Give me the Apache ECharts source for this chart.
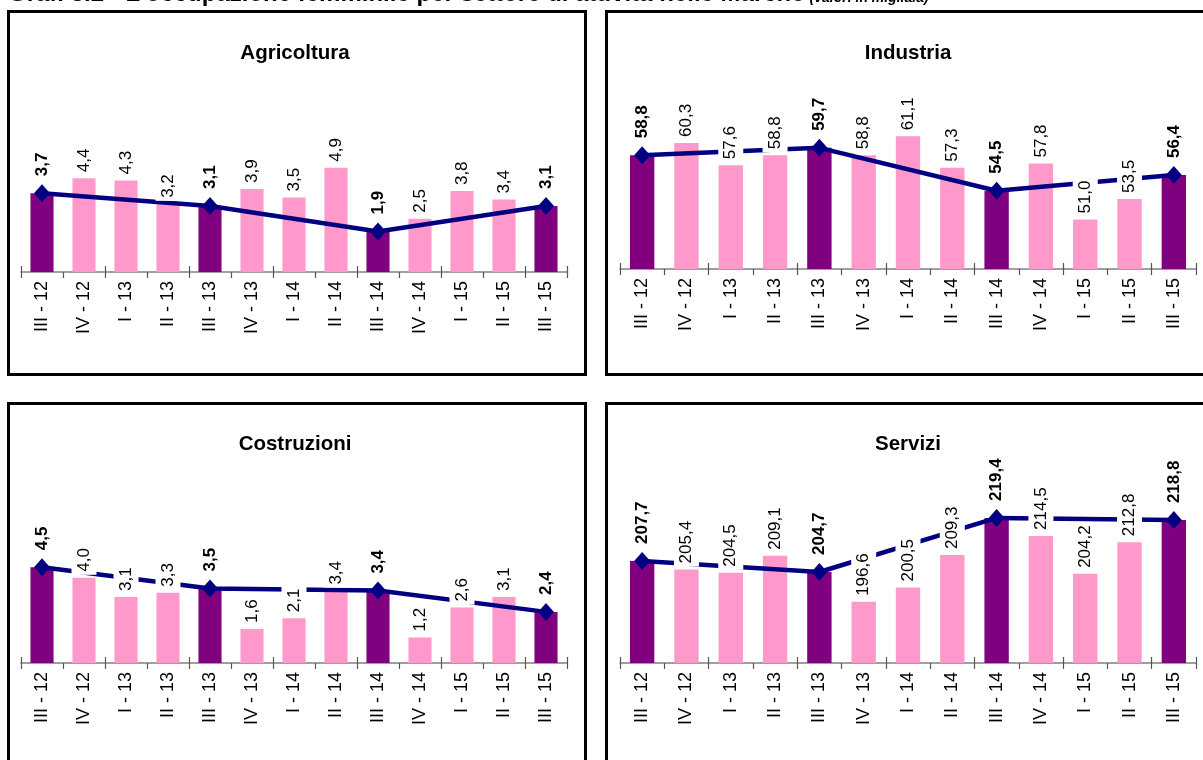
<!DOCTYPE html>
<html>
<head>
<meta charset="utf-8">
<script src="https://cdn.jsdelivr.net/npm/echarts@6/dist/echarts.min.js"></script>
<style>
html,body{margin:0;padding:0;background:#fff;}
#chart{width:1203px;height:760px;}
</style>
</head>
<body>
<div id="chart"></div>
<script>
const categories = ['III - 12','IV - 12','I - 13','II - 13','III - 13','IV - 13','I - 14','II - 14','III - 14','IV - 14','I - 15','II - 15','III - 15'];
const agricoltura = [3.7,4.4,4.3,3.2,3.1,3.9,3.5,4.9,1.9,2.5,3.8,3.4,3.1];
const industria = [58.8,60.3,57.6,58.8,59.7,58.8,61.1,57.3,54.5,57.8,51.0,53.5,56.4];
const costruzioni = [4.5,4.0,3.1,3.3,3.5,1.6,2.1,3.4,3.4,1.2,2.6,3.1,2.4];
const servizi = [207.7,205.4,204.5,209.1,204.7,196.6,200.5,209.3,219.4,214.5,204.2,212.8,218.8];
const panelTitles = ['Agricoltura','Industria','Costruzioni','Servizi'];
const mainTitle = "Graf. 3.2 - L'occupazione femminile per settore di attività nelle Marche";
const mainSubtitle = '(valori in migliaia)';
// III quarters are highlighted
const highlighted = categories.map(c => c.startsWith('III '));
const yRanges = [[0,10],[45,70],[0,10],[180,240]];

const DARK = '#800080', PINK = '#FF99CC', NAVY = '#000080';
const FONT = '"Liberation Sans", Arial, sans-serif';
const fmt = v => v.toFixed(1).replace('.', ',');

const grids = [
  {left:21, top:59, width:546, height:213},
  {left:620, top:63, width:576, height:206},
  {left:21, top:450, width:546, height:213},
  {left:620, top:442, width:576, height:221}
];
const datasets = [agricoltura, industria, costruzioni, servizi];

const xAxis = [], yAxis = [], series = [];
datasets.forEach((vals, g) => {
  xAxis.push({
    type:'category', gridIndex:g, data:categories, position:'bottom',
    axisLine:{lineStyle:{color:'#808080', width:1.5}},
    axisTick:{show:true, length:6, lineStyle:{color:'#555', width:1.2}},
    axisLabel:{rotate:90, fontSize:18, color:'#000', fontFamily:FONT, margin:9, interval:0}
  });
  xAxis.push({
    type:'category', gridIndex:g, data:categories, position:'bottom',
    axisLine:{show:false},
    axisTick:{show:true, inside:true, length:6, lineStyle:{color:'#555', width:1.2}},
    axisLabel:{show:false}
  });
  yAxis.push({type:'value', gridIndex:g, min:yRanges[g][0], max:yRanges[g][1], show:false, splitLine:{show:false}});
  series.push({
    type:'bar', xAxisIndex:2*g, yAxisIndex:g, barWidth:'55%', z:2,
    data: vals.map((v,i) => ({value:v, itemStyle:{color: highlighted[i] ? DARK : PINK}})),
    silent:true
  });
  series.push({
    type:'line', xAxisIndex:2*g, yAxisIndex:g, z:4, connectNulls:true,
    data: vals.map((v,i) => highlighted[i] ? v : null),
    lineStyle:{color:NAVY, width:4.5},
    itemStyle:{color:NAVY},
    symbol:'diamond', symbolSize:[16,18], showSymbol:true,
    silent:true
  });
  series.push({
    type:'bar', xAxisIndex:2*g, yAxisIndex:g, barWidth:'55%', barGap:'-100%', z:6, zlevel:1,
    itemStyle:{color:'rgba(0,0,0,0)'},
    data: vals.map((v,i) => ({
      value:v,
      label:{
        show:true, position:'top', rotate:90, align:'left', verticalAlign:'middle',
        distance: highlighted[i] ? 14 : 3,
        fontSize:17, fontFamily:FONT, color:'#000',
        fontWeight: highlighted[i] ? 'bold' : 'normal',
        backgroundColor: highlighted[i] ? 'transparent' : '#fff', padding:[4,3,4,3],
        formatter: p => fmt(p.value)
      }
    })),
    silent:true
  });
});

const titles = [
  {text:'{b|' + mainTitle + '} {i|' + mainSubtitle + '}',
   left:8, top:-18, padding:0,
   textStyle:{rich:{
     b:{fontSize:24, lineHeight:24, fontWeight:'bold', fontFamily:FONT, color:'#000', verticalAlign:'bottom'},
     i:{fontSize:14, lineHeight:24, fontStyle:'italic', fontFamily:FONT, color:'#000', verticalAlign:'bottom', padding:[0,0,1,0]}
   }}}
];
const titlePos = [[290,38],[903,38],[290,429],[903,429]];
panelTitles.forEach((t,k) => {
  titles.push({text:t, left:titlePos[k][0], top:titlePos[k][1], textAlign:'center',
    textStyle:{fontSize:20.5, fontWeight:'bold', fontFamily:FONT, color:'#000'}});
});

const frames = [
  [8.5,11.5,577,363],[606.5,11.5,600,363],[8.5,403.5,577,370],[606.5,403.5,600,370]
].map(r => ({type:'rect', shape:{x:r[0], y:r[1], width:r[2], height:r[3]},
  style:{fill:'none', stroke:'#000', lineWidth:3}, silent:true, z:-1}));

const chart = echarts.init(document.getElementById('chart'), null, {renderer:'canvas'});
chart.setOption({
  animation:false,
  backgroundColor:'#fff',
  title:titles,
  graphic:frames,
  grid:grids,
  xAxis:xAxis,
  yAxis:yAxis,
  series:series
});
</script>
</body>
</html>
